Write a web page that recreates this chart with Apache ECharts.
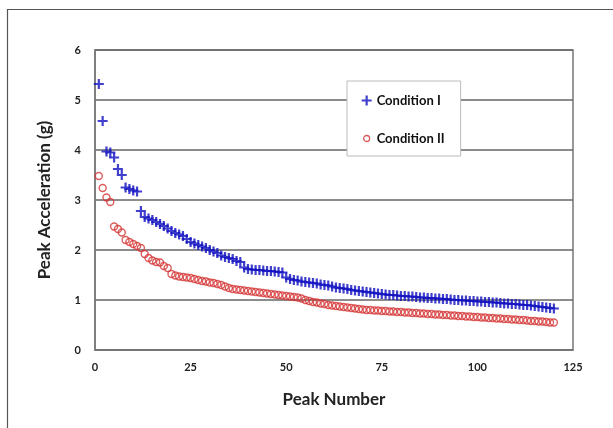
<!DOCTYPE html>
<html>
<head>
<meta charset="utf-8">
<script src="https://cdn.jsdelivr.net/npm/echarts@6/dist/echarts.min.js"></script>
<style>html,body{margin:0;padding:0;background:#fff;}#c{width:613px;height:428px;}</style>
</head>
<body>
<div id="c"></div>
<script>
const seriesNames = ['Condition I', 'Condition II'];
const xTicks = [0, 25, 50, 75, 100, 125];
const yTicks = [0, 1, 2, 3, 4, 5, 6];
const condI = [5.32,4.58,3.97,3.95,3.85,3.62,3.50,3.25,3.22,3.19,3.17,2.78,2.66,2.63,2.60,2.56,2.52,2.48,2.43,2.38,
2.34,2.31,2.28,2.22,2.16,2.13,2.10,2.07,2.04,2.00,1.97,1.94,1.89,1.86,1.84,1.82,1.78,1.76,1.65,1.62,
1.61,1.60,1.60,1.59,1.58,1.58,1.57,1.56,1.55,1.45,1.42,1.40,1.39,1.37,1.36,1.35,1.34,1.33,1.31,1.30,
1.29,1.27,1.25,1.24,1.23,1.22,1.20,1.19,1.18,1.17,1.16,1.15,1.14,1.13,1.12,1.11,1.10,1.10,1.09,1.08,
1.08,1.07,1.07,1.06,1.05,1.05,1.04,1.04,1.03,1.03,1.02,1.02,1.01,1.00,1.00,0.99,0.99,0.98,0.98,0.97,
0.97,0.96,0.96,0.95,0.95,0.94,0.93,0.93,0.92,0.92,0.91,0.90,0.90,0.89,0.88,0.87,0.86,0.85,0.84,0.83];
const condII = [3.48,3.24,3.05,2.96,2.47,2.42,2.35,2.20,2.16,2.12,2.08,2.04,1.92,1.84,1.79,1.76,1.75,1.68,1.64,1.52,
1.49,1.47,1.46,1.45,1.44,1.42,1.40,1.38,1.37,1.35,1.34,1.32,1.30,1.27,1.24,1.22,1.21,1.20,1.19,1.18,
1.17,1.16,1.15,1.14,1.13,1.12,1.11,1.10,1.09,1.08,1.07,1.06,1.05,1.03,1.00,0.98,0.96,0.95,0.93,0.92,
0.90,0.89,0.88,0.87,0.86,0.85,0.84,0.83,0.82,0.81,0.80,0.80,0.79,0.79,0.78,0.78,0.77,0.77,0.76,0.76,
0.75,0.75,0.74,0.74,0.73,0.73,0.72,0.72,0.71,0.71,0.70,0.70,0.69,0.69,0.68,0.68,0.67,0.67,0.66,0.66,
0.65,0.65,0.64,0.64,0.63,0.63,0.62,0.62,0.61,0.61,0.60,0.60,0.59,0.58,0.58,0.57,0.57,0.56,0.55,0.55];

const FONT = 'Lato, "Open Sans", sans-serif';
const plusPath = 'path://M3.9,0H6.1V3.9H10V6.1H6.1V10H3.9V6.1H0V3.9H3.9Z';
const smallCircle = 'path://M0,0M10,10M8,5A3,3,0,1,1,2,5A3,3,0,1,1,8,5Z';
const chart = echarts.init(document.getElementById('c'), null, {renderer: 'canvas'});
chart.setOption({
  animation: false,
  backgroundColor: '#fff',
  graphic: [{
    type: 'rect', silent: true, z: -10,
    shape: {x: 7.5, y: 9.5, width: 800, height: 600},
    style: {fill: 'none', stroke: '#555', lineWidth: 1.2}
  }],
  grid: {left: 95, right: 40, top: 50, bottom: 78, show: true, borderColor: '#777', borderWidth: 1.5, backgroundColor: 'transparent'},
  legend: {
    orient: 'vertical', left: 347, top: 81,
    padding: [13, 16, 11, 14], itemGap: 25, itemWidth: 10, itemHeight: 10,
    backgroundColor: '#fff', borderColor: '#bbb', borderWidth: 1,
    textStyle: {fontFamily: FONT, fontWeight: 'bold', fontSize: 13, color: '#111'},
    data: [
      {name: seriesNames[0], icon: plusPath, itemStyle: {color: '#1010c0'}},
      {name: seriesNames[1], icon: smallCircle, itemStyle: {color: '#fff', borderColor: '#d03030', borderWidth: 1.3}}
    ]
  },
  xAxis: {
    type: 'value', min: xTicks[0], max: xTicks[xTicks.length-1], interval: 25,
    name: 'Peak Number', nameLocation: 'middle', nameGap: 41,
    nameTextStyle: {fontFamily: FONT, fontWeight: 'bold', fontSize: 17, color: '#222'},
    axisLine: {show: true, lineStyle: {color: '#777', width: 1.5}},
    axisTick: {show: false},
    splitLine: {show: false},
    axisLabel: {fontFamily: FONT, fontWeight: 'bold', fontSize: 11, color: '#222', margin: 12}
  },
  yAxis: {
    type: 'value', min: yTicks[0], max: yTicks[yTicks.length-1], interval: 1,
    name: 'Peak Acceleration (g)', nameLocation: 'middle', nameGap: 42,
    nameTextStyle: {fontFamily: FONT, fontWeight: 'bold', fontSize: 17, color: '#222'},
    axisLine: {show: true, lineStyle: {color: '#777', width: 1.5}},
    axisTick: {show: false},
    splitLine: {show: true, lineStyle: {color: '#666', width: 1.5}},
    axisLabel: {fontFamily: FONT, fontWeight: 'bold', fontSize: 11, color: '#222', margin: 14}
  },
  series: [
    {
      name: seriesNames[0], type: 'scatter', symbol: plusPath, symbolSize: 10, z: 3,
      itemStyle: {color: '#1010c0'},
      data: condI.map((v, i) => [i + 1, v])
    },
    {
      name: seriesNames[1], type: 'scatter', symbol: 'circle', symbolSize: 7, z: 2,
      itemStyle: {color: 'rgba(0,0,0,0)', borderColor: '#d43535', borderWidth: 1.4},
      data: condII.map((v, i) => [i + 1, v])
    }
  ]
});
</script>
</body>
</html>
